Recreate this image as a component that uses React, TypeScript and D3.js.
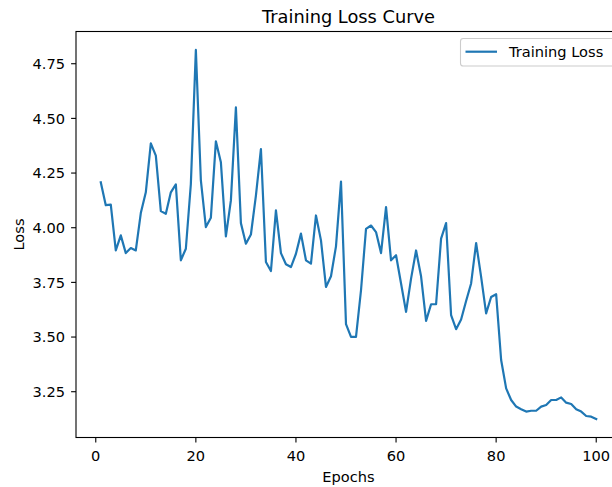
import React from "react";
import * as d3 from "d3";

const epochs: number[] = d3.range(1, 101);
const losses: number[] = [
  4.208, 4.103, 4.106, 3.896, 3.965, 3.884, 3.907, 3.896, 4.067, 4.162,
  4.386, 4.330, 4.076, 4.064, 4.162, 4.198, 3.851, 3.904, 4.200, 4.813,
  4.216, 4.003, 4.046, 4.395, 4.299, 3.960, 4.125, 4.550, 4.021, 3.927,
  3.969, 4.147, 4.360, 3.843, 3.802, 4.079, 3.884, 3.833, 3.820, 3.881,
  3.973, 3.851, 3.836, 4.056, 3.942, 3.729, 3.778, 3.915, 4.211, 3.559,
  3.501, 3.501, 3.714, 3.995, 4.010, 3.980, 3.884, 4.094, 3.851, 3.874,
  3.745, 3.615, 3.767, 3.896, 3.778, 3.574, 3.650, 3.650, 3.950, 4.021,
  3.600, 3.536, 3.580, 3.665, 3.745, 3.930, 3.775, 3.608, 3.683, 3.696,
  3.395, 3.265, 3.212, 3.182, 3.170, 3.159, 3.163, 3.163, 3.182, 3.189,
  3.212, 3.212, 3.224, 3.200, 3.194, 3.170, 3.159, 3.139, 3.136, 3.125,
];
const xTicks: number[] = [0, 20, 40, 60, 80, 100];
const yTicks: number[] = [3.25, 3.5, 3.75, 4.0, 4.25, 4.5, 4.75];
const seriesName = "Training Loss";
const title = "Training Loss Curve";
const xLabel = "Epochs";
const yLabel = "Loss";

const W = 612;
const H = 487;
const L = 76;
const R = 621;
const T = 31.5;
const B = 437.5;
const FONT = "'DejaVu Sans', sans-serif";
const BLUE = "#1f77b4";

export default function App() {
  const [x0, x1] = d3.extent(epochs) as [number, number];
  const xPad = (x1 - x0) * 0.05;
  const x = d3.scaleLinear().domain([x0 - xPad, x1 + xPad]).range([L, R]);
  const [y0, y1] = d3.extent(losses) as [number, number];
  const yPad = (y1 - y0) * 0.05;
  const y = d3.scaleLinear().domain([y0 - yPad, y1 + yPad]).range([B, T]);

  const line = d3
    .line<number>()
    .x((_, i) => x(epochs[i]))
    .y((d) => y(d));

  const tickLen = 4.9;
  const fs = 14.6;

  return (
    <svg
      width={W}
      height={H}
      style={{ position: "absolute", left: 0, top: 0, background: "#fff" }}
      fontFamily={FONT}
    >
      <rect x={0} y={0} width={W} height={H} fill="#fff" />
      <path
        d={line(losses) || ""}
        fill="none"
        stroke={BLUE}
        strokeWidth={2.2}
        strokeLinejoin="round"
        strokeLinecap="square"
      />
      {/* spines */}
      <rect x={L} y={T} width={R - L} height={B - T} fill="none" stroke="#000" strokeWidth={1.1} />
      {/* x ticks */}
      {xTicks.map((t) => (
        <g key={"x" + t}>
          <line x1={x(t)} x2={x(t)} y1={B} y2={B + tickLen} stroke="#000" strokeWidth={1.1} />
          <text x={x(t)} y={460.7} fontSize={fs} textAnchor="middle" fill="#000">
            {t}
          </text>
        </g>
      ))}
      {/* y ticks */}
      {yTicks.map((t) => (
        <g key={"y" + t}>
          <line x1={L - tickLen} x2={L} y1={y(t)} y2={y(t)} stroke="#000" strokeWidth={1.1} />
          <text x={L - 11} y={y(t) + 5.3} fontSize={fs} textAnchor="end" fill="#000">
            {t.toFixed(2)}
          </text>
        </g>
      ))}
      <text x={(L + R) / 2} y={482.3} fontSize={fs} textAnchor="middle" fill="#000">
        {xLabel}
      </text>
      <text
        transform={`translate(${24},${(T + B) / 2}) rotate(-90)`}
        fontSize={fs}
        textAnchor="middle"
        fill="#000"
      >
        {yLabel}
      </text>
      <text x={(L + R) / 2} y={23} fontSize={17.8} textAnchor="middle" fill="#000">
        {title}
      </text>
      {/* legend */}
      <rect
        x={460.5}
        y={38.5}
        width={160}
        height={27.5}
        rx={2.8}
        fill="#fff"
        fillOpacity={0.8}
        stroke="#cccccc"
        strokeWidth={1.1}
      />
      <line x1={465.5} x2={497} y1={51.7} y2={51.7} stroke={BLUE} strokeWidth={2.2} />
      <text x={509} y={57.3} fontSize={fs} fill="#000">
        {seriesName}
      </text>
    </svg>
  );
}
